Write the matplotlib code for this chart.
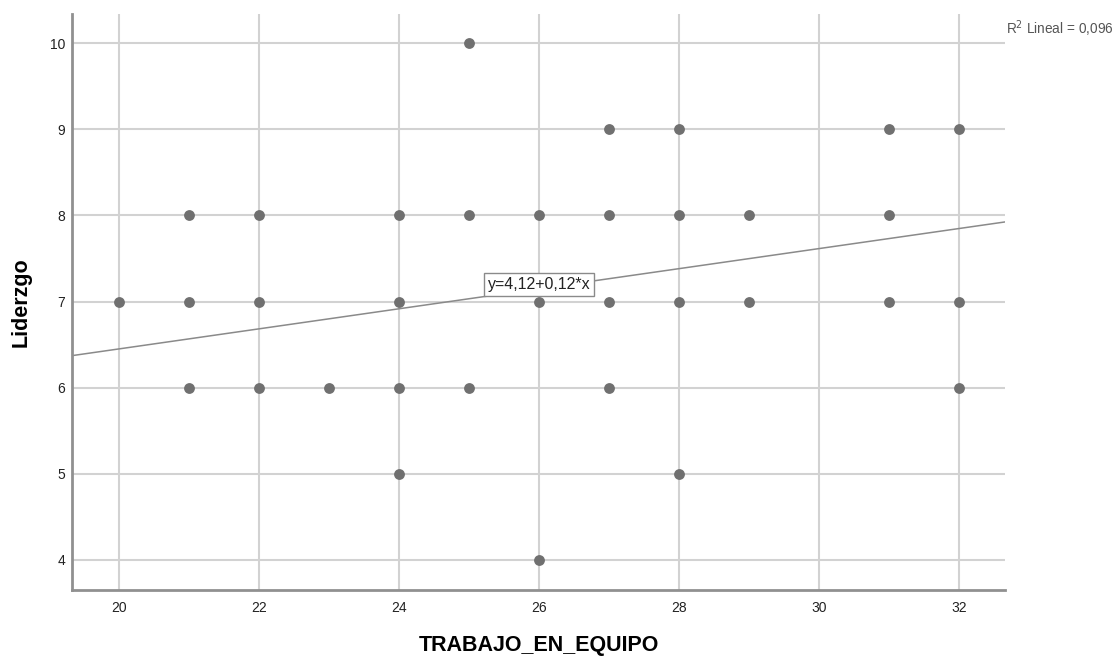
import matplotlib.pyplot as plt

# datos
trabajo = [20, 21, 21, 21, 22, 22, 22, 23, 24, 24, 24, 24, 25, 25, 25,
           26, 26, 26, 27, 27, 27, 27, 28, 28, 28, 28, 29, 29, 31, 31, 31,
           32, 32, 32]
liderazgo = [7, 8, 7, 6, 8, 7, 6, 6, 8, 7, 6, 5, 10, 8, 6,
             8, 7, 4, 9, 8, 7, 6, 9, 8, 7, 5, 8, 7, 9, 8, 7,
             9, 7, 6]
intercepto = 4.12
pendiente = 0.1165
xticks = [20, 22, 24, 26, 28, 30, 32]
yticks = [4, 5, 6, 7, 8, 9, 10]

plt.rcParams['font.family'] = ['Liberation Sans', 'DejaVu Sans']

fig = plt.figure(figsize=(11.17, 6.57), dpi=100)
ax = fig.add_axes([72/1117, 1-590/657, (1005-72)/1117, (590-14)/657])

xmin, xmax = 19.33, 32.66
ax.set_xlim(xmin, xmax)
ax.set_ylim(3.65, 10.34)

for x in xticks:
    ax.axvline(x, color='#d2d2d2', lw=1.5, zorder=1)
for y in yticks:
    ax.axhline(y, color='#d2d2d2', lw=1.5, zorder=1)

ax.plot(trabajo, liderazgo, 'o', color='#707070', ms=7.8, mec='none', zorder=3)

ax.plot([xmin, xmax], [intercepto + pendiente*xmin, intercepto + pendiente*xmax],
        color='#8a8a8a', lw=1.1, zorder=2)

ax.text(26, 7.2, 'y=4,12+0,12*x', ha='center', va='center', fontsize=11.5,
        color='#222222', zorder=4,
        bbox=dict(boxstyle='square,pad=0.25', fc='white', ec='#8a8a8a', lw=1))

ax.set_xticks(xticks)
ax.set_yticks(yticks)
ax.tick_params(length=0, labelsize=10, colors='#222222')
ax.tick_params(axis='x', pad=8)
ax.tick_params(axis='y', pad=5)
for s in ['top', 'right']:
    ax.spines[s].set_visible(False)
for s in ['left', 'bottom']:
    ax.spines[s].set_color('#909090')
    ax.spines[s].set_linewidth(2)

ax.set_xlabel('TRABAJO_EN_EQUIPO', fontsize=15.5, fontweight='bold', labelpad=14)
ax.set_ylabel('Liderzgo', fontsize=15.5, fontweight='bold', labelpad=13)

fig.text(1006/1117, 1-29/657, 'R$^2$ Lineal = 0,096', fontsize=9.8, color='#555555',
         ha='left', va='center')

fig.savefig('out.png', dpi=100)
